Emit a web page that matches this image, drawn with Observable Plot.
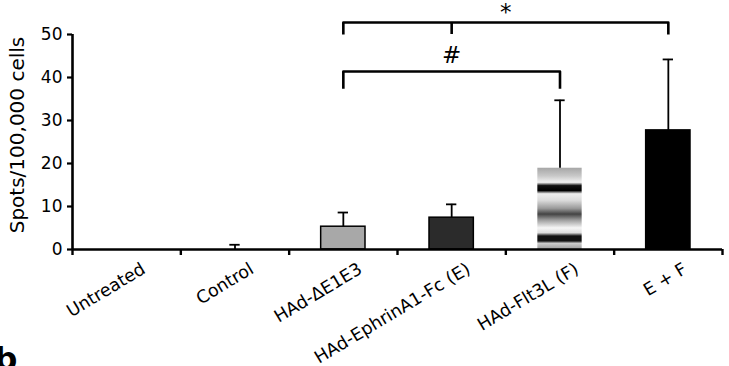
<!DOCTYPE html>
<html>
<head>
<meta charset="utf-8">
<script src="https://cdn.jsdelivr.net/npm/d3@7"></script>
<script src="https://cdn.jsdelivr.net/npm/@observablehq/plot@0.6"></script>
<style>
  html, body { margin: 0; padding: 0; background: #fff; }
  #chart svg { display: block; }
</style>
</head>
<body>
<div id="chart"></div>
<script>
// ---- data ----
const categories = ["Untreated", "Control", "HAd-\u0394E1E3", "HAd-EphrinA1-Fc (E)", "HAd-Flt3L (F)", "E + F"];
const means      = [0, 0, 5.3, 7.4, 18.9, 27.7];
const errUpper   = [0, 1.1, 8.6, 10.5, 34.7, 44.2];   // mean + SD (top of error bar)
const barFills   = ["#ffffff", "#ffffff", "#a8a8a8", "#2b2b2b", "url(#flt3lGrad)", "#000000"];
const barStrokes = ["none", "none", "#000", "#000", "none", "#000"];
const yTicks     = [0, 10, 20, 30, 40, 50];
const yLabel     = "Spots/100,000 cells";

// significance brackets (category indices, y levels in data units)
const bracketLabels   = ["*", "#"];
const bracketFrom     = [2, 2];
const bracketTo       = [5, 4];
const bracketMid      = [3, null];
const bracketLevel    = [52.8, 41.4];
const bracketLegBase  = [50.0, 37.4];
const bracketTextLvl  = [55.0, 45.0];

// ---- derived tables ----
const rows = categories.map((c, i) => ({
  i, cat: c, mean: means[i], top: errUpper[i], fill: barFills[i], stroke: barStrokes[i]
}));
const bracketPaths = [];
bracketLabels.forEach((lab, k) => {
  const a = bracketFrom[k] + 0.5, b = bracketTo[k] + 0.5;
  bracketPaths.push(
    {k, x: a, y: bracketLegBase[k]},
    {k, x: a, y: bracketLevel[k]},
    {k, x: b, y: bracketLevel[k]},
    {k, x: b, y: bracketLegBase[k]}
  );
});
const bracketTicks = bracketMid
  .map((m, k) => m == null ? null : {x: m + 0.5, y1: bracketLegBase[k], y2: bracketLevel[k]})
  .filter(d => d);
const bracketText = bracketLabels.map((lab, k) => ({
  lab, x: (bracketFrom[k] + bracketTo[k]) / 2 + 0.5, y: bracketTextLvl[k]
}));

const font = "'DejaVu Sans', sans-serif";

const chart = Plot.plot({
  width: 729,
  height: 366,
  marginLeft: 72,
  marginRight: 7,
  marginTop: 34,
  marginBottom: 117,
  style: {fontFamily: font, fontSize: "17px", background: "#fff", color: "#000", overflow: "visible"},
  x: {domain: [0, categories.length], axis: null},
  y: {domain: [0, 50], axis: null},
  marks: [
    // bars
    Plot.rectY(rows.filter(d => d.mean > 0), {
      x1: d => d.i, x2: d => d.i + 1, y1: 0, y2: "mean",
      fill: d => d.fill, stroke: d => d.stroke, strokeWidth: 1.5,
      insetLeft: 32, insetRight: 32
    }),
    // error bars
    Plot.ruleX(rows.filter(d => d.top > d.mean), {
      x: d => d.i + 0.5, y1: "mean", y2: "top", stroke: "#000", strokeWidth: 1.8
    }),
    Plot.ruleY(rows.filter(d => d.top > d.mean), {
      x1: d => d.i, x2: d => d.i + 1, y: "top", stroke: "#000", strokeWidth: 1.8,
      insetLeft: 49, insetRight: 49
    }),
    // axes lines
    Plot.ruleX([0], {y1: 0, y2: 50, stroke: "#000", strokeWidth: 2.6}),
    Plot.ruleY([0], {x1: 0, x2: categories.length, stroke: "#000", strokeWidth: 2.6}),
    Plot.axisY({ticks: yTicks, tickSize: 5, tickPadding: 5, strokeWidth: 2.2, fontSize: 17, label: null}),
    Plot.axisX({ticks: d3.range(categories.length + 1), tickSize: 6, strokeWidth: 2.4, tickFormat: () => "", label: null}),
    // category labels
    Plot.text(rows, {
      x: d => d.i + 0.5, y: 0, text: "cat", rotate: -31, textAnchor: "end",
      dx: 17, dy: 18, fontSize: 17.5, fill: "#000"
    }),
    // y label
    Plot.text([yLabel], {
      frameAnchor: "left", text: d => d, rotate: -90, dx: -55, dy: -7,
      fontSize: 20, fill: "#000", textAnchor: "middle", lineAnchor: "middle"
    }),
    // significance brackets
    Plot.line(bracketPaths, {x: "x", y: "y", z: "k", stroke: "#000", strokeWidth: 2.6, strokeLinejoin: "round", strokeLinecap: "butt"}),
    Plot.ruleX(bracketTicks, {x: "x", y1: "y1", y2: "y2", stroke: "#000", strokeWidth: 2.6}),
    Plot.text(bracketText, {x: "x", y: "y", text: "lab", fontSize: 23, fill: "#000", lineAnchor: "middle"})
  ]
});

// gradient fill for the HAd-Flt3L bar
const svg = d3.select(chart);
svg.attr("font-family", font);
const grad = svg.insert("defs", ":first-child").append("linearGradient")
  .attr("id", "flt3lGrad").attr("x1", 0).attr("y1", 0).attr("x2", 0).attr("y2", 1);
[
  [0.00, "#a6a6a6"], [0.10, "#c8c8c8"], [0.18, "#f2f2f2"], [0.22, "#111"], [0.28, "#000"],
  [0.32, "#eeeeee"], [0.40, "#dcdcdc"], [0.50, "#9a9a9a"], [0.57, "#444"], [0.64, "#9a9a9a"],
  [0.74, "#f6f6f6"], [0.80, "#dddddd"], [0.84, "#111"], [0.90, "#111"], [0.93, "#cccccc"],
  [1.00, "#9c9c9c"]
].forEach(([o, c]) => grad.append("stop").attr("offset", o).attr("stop-color", c));

// panel letter (cut at the bottom edge, as in the reference)
svg.append("text").attr("x", 6).attr("y", 370).attr("font-size", 32).attr("font-weight", "bold")
  .attr("font-family", font).attr("fill", "#000").text("b");

document.getElementById("chart").appendChild(chart);
</script>
</body>
</html>
